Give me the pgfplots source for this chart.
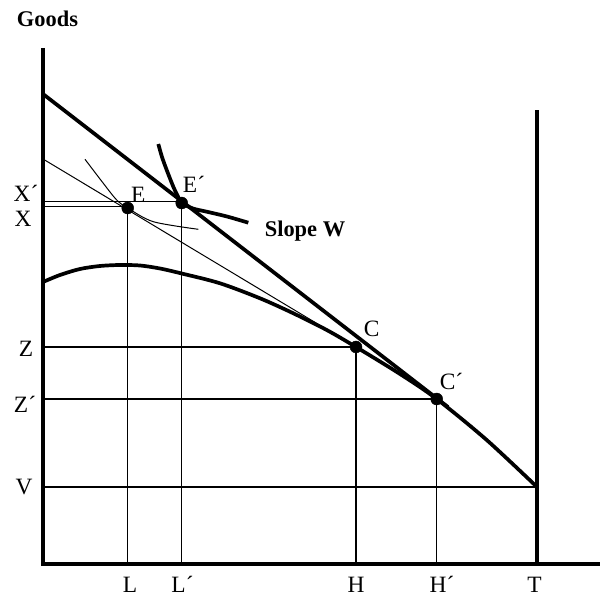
\documentclass[border=0pt]{standalone}
\usepackage{pgfplots}
\pgfplotsset{compat=1.18}
\usepackage{fontspec}
\setmainfont{Liberation Serif}
\newcommand\lab{\fontsize{23.5}{26}\selectfont}
\begin{document}
\begin{tikzpicture}
\begin{axis}[x=1bp,y=1bp,xmin=-43,xmax=559,ymin=-34,ymax=564,hide axis,clip=false]
\path (axis cs:-43,-34) rectangle (axis cs:559,564);
% thin guide lines
\addplot[black,line width=1.4bp] coordinates {(0,362.3)(138.7,362.3)};
\addplot[black,line width=1.4bp] coordinates {(0,357.3)(84.7,357.3)};
\addplot[black,line width=1.4bp] coordinates {(0,217)(313,217)};
\addplot[black,line width=1.4bp] coordinates {(0,165)(393.7,165)};
\addplot[black,line width=1.4bp] coordinates {(0,77)(494,77)};
\addplot[black,line width=1.4bp] coordinates {(84.7,0)(84.7,357)};
\addplot[black,line width=1.4bp] coordinates {(138.7,0)(138.7,362)};
\addplot[black,line width=1.4bp] coordinates {(313,0)(313,217)};
\addplot[black,line width=1.4bp] coordinates {(393.7,0)(393.7,165)};
% thin tangent line through E and C
\addplot[black,line width=1bp] coordinates {(0,405)(313,217)};
% thin indifference curve through E
\addplot[black,line width=1bp,smooth] coordinates {(42,404.7)(60.3,380.7)(73.7,364)(84.7,356)(110.3,342.3)(155.3,334.7)};
% thick indifference curve through E'
\addplot[black,line width=3.7bp,smooth] coordinates {(115.3,420)(119,407)(123.7,394)(130.3,377.3)(135,367.5)(138.7,361)(150,355.5)(163.7,352.3)(184,347.5)(205.3,341.3)};
% production frontier
\addplot[black,line width=3.7bp,smooth] coordinates {(0,282)(17,289)(37,295)(57,298)(77,299)(97,298.5)(117,295.5)(138.7,290.5)(177,280.7)(217,265.7)(250.3,250.7)(283.7,234)(313,217)(357,190)(393.7,165)(443.7,124)(494,77)};
% budget line
\addplot[black,line width=3.7bp] coordinates {(0,470)(405,157)};
% axes and time endowment
\addplot[black,line width=4bp,line join=miter] coordinates {(0,516)(0,0)(557,0)};
\addplot[black,line width=4bp] coordinates {(494,0)(494,454)};
% points
\addplot[black,only marks,mark=*,mark size=6bp] coordinates {(84.7,356)(138.7,361)(313,217)(393.7,165)};
% labels
\node[anchor=base,font=\bfseries\fontsize{22.5}{24}\selectfont] at (axis cs:4.5,537) {Goods};
\node[anchor=base,font=\bfseries\fontsize{22.5}{24}\selectfont] at (axis cs:262,327) {Slope W};
\node[anchor=base,font=\lab] at (axis cs:-17,362) {X´};
\node[anchor=base,font=\lab] at (axis cs:-20,337) {X};
\node[anchor=base,font=\lab] at (axis cs:-17,207) {Z};
\node[anchor=base,font=\lab] at (axis cs:-18,151) {Z´};
\node[anchor=base,font=\lab] at (axis cs:-19,69) {V};
\node[anchor=base,font=\lab] at (axis cs:87,-29) {L};
\node[anchor=base,font=\lab] at (axis cs:139.5,-29) {L´};
\node[anchor=base,font=\lab] at (axis cs:313,-29) {H};
\node[anchor=base,font=\lab] at (axis cs:399,-29) {H´};
\node[anchor=base,font=\lab] at (axis cs:491.5,-29) {T};
\node[anchor=base,font=\lab] at (axis cs:95.3,361) {E};
\node[anchor=base,font=\lab] at (axis cs:151,371) {E´};
\node[anchor=base,font=\lab] at (axis cs:328.7,227) {C};
\node[anchor=base,font=\lab] at (axis cs:408.5,174) {C´};
\end{axis}
\end{tikzpicture}
\end{document}
